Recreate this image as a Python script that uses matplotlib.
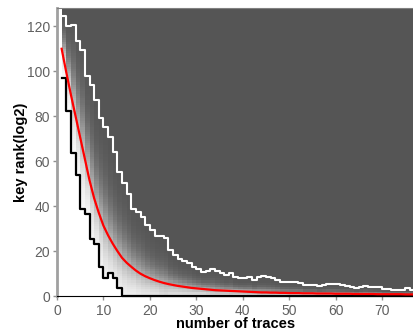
import matplotlib

matplotlib.use("Agg")

import matplotlib.pyplot as plt
import numpy as np
from matplotlib.colors import LinearSegmentedColormap

plt.rcParams["font.family"] = ["Liberation Sans", "DejaVu Sans"]

# number of traces 1..77 and the rank statistics
traces = list(range(1, 78))

rank_lower = [97, 82.2, 63.4, 54, 38.8, 36.5, 25.4, 23.2, 13, 8, 10.3, 7.8, 3.4] + [0] * 64

rank_mean = [110, 99.5, 89.5, 80, 70.5, 61, 51.5, 43.5, 37, 31.3,
             27, 23.3, 20, 17, 14.8, 13, 11.3, 9.9, 8.8, 7.9,
             7.1, 6.4, 5.8, 5.3, 4.9, 4.5, 4.2, 3.9, 3.6, 3.4,
             3.2, 3.0, 2.8, 2.6, 2.5, 2.4, 2.3, 2.2, 2.1, 2.0,
             1.9, 1.8, 1.7, 1.6, 1.6, 1.5, 1.5, 1.4, 1.4, 1.3,
             1.3, 1.3, 1.2, 1.2, 1.2, 1.1, 1.1, 1.1, 1.1, 1.0,
             1.0, 1.0, 1.0, 0.9, 0.9, 0.9, 0.9, 0.9, 0.8, 0.8,
             0.8, 0.8, 0.8, 0.8, 0.7, 0.7, 0.7]

rank_upper = [124.4, 120, 120.5, 113.5, 109.6, 98, 94, 87.4, 79.4, 75,
              70.8, 64, 55.3, 50.1, 45.6, 38.9, 37.5, 35.3, 31.6, 29.3,
              26.7, 26.7, 25.6, 20.4, 18.2, 16.5, 15.5, 14.5, 13, 11.9,
              10.8, 11.3, 11.9, 11.1, 10.1, 9.3, 10.1, 8.3, 7.9, 7.9,
              8.6, 7.3, 8.6, 8.9, 8.3, 7.9, 7.1, 6.4, 6.2, 6.2,
              6.2, 5.9, 4.9, 4.9, 4.9, 4.4, 4.9, 5.3, 5.2, 5.2,
              4.7, 4.4, 3.8, 3.4, 4.1, 4.6, 4.1, 3.8, 3.8, 3.0,
              3.0, 2.7, 2.7, 2.7, 3.4, 2.7, 2.7]

y_ticks = [0, 20, 40, 60, 80, 100, 120]
x_ticks = [0, 10, 20, 30, 40, 50, 60, 70]

# share of runs whose rank is still >= r, per trace count (shaded background)
t = np.array(traces, dtype=float)
lo = np.array(rank_lower, dtype=float)
mu = np.array(rank_mean, dtype=float)
hi = np.array(rank_upper, dtype=float)
r_edges = np.arange(0, 129)
r_mid = r_edges[:-1] + 0.5
width = (hi - lo) / 7.0
surv = 1.0 / (1.0 + np.exp((r_mid[:, None] - mu) / width))
surv[r_mid[:, None] <= lo] = 1.0
surv[r_mid[:, None] >= hi] = 0.0

cmap = LinearSegmentedColormap.from_list("rank_gray", ["#555555", "#ffffff"])

fig = plt.figure(figsize=(4.14, 3.31), dpi=100)
ax = fig.add_axes([57 / 414, 35 / 331, 1 - 57 / 414 - 0.002, (296 - 8.3) / 331])

x_edges = np.append(t, t[-1] + 1)
ax.pcolormesh(x_edges, r_edges, surv, cmap=cmap, vmin=0, vmax=1,
              shading="flat", rasterized=True)

ax.step(t, hi, where="post", color="white", lw=1.5, zorder=3)
ax.step(t, lo, where="post", color="black", lw=1.6, zorder=3, clip_on=False)
ax.plot(t, mu, color="#ff0000", lw=1.6, zorder=4)

ax.set_xlim(0, 76.7)
ax.set_ylim(0, 128)
ax.set_xticks(x_ticks)
ax.set_yticks(y_ticks)
ax.tick_params(direction="out", length=3, width=1, color="#909090",
               labelcolor="#606060", labelsize=10)
ax.tick_params(axis="x", pad=3)
ax.tick_params(axis="y", pad=2)

ax.spines["left"].set_color("#a0a0a0")
ax.spines["left"].set_linewidth(2)
ax.spines["bottom"].set_color("black")
ax.spines["top"].set_color("#808080")
ax.spines["right"].set_visible(False)

ax.set_xlabel("number of traces", fontsize=10.5, fontweight="bold", labelpad=-1)
ax.set_ylabel("key rank(log2)", fontsize=10.5, fontweight="bold", labelpad=-1)

fig.savefig("out.png", dpi=100)
plt.close(fig)
